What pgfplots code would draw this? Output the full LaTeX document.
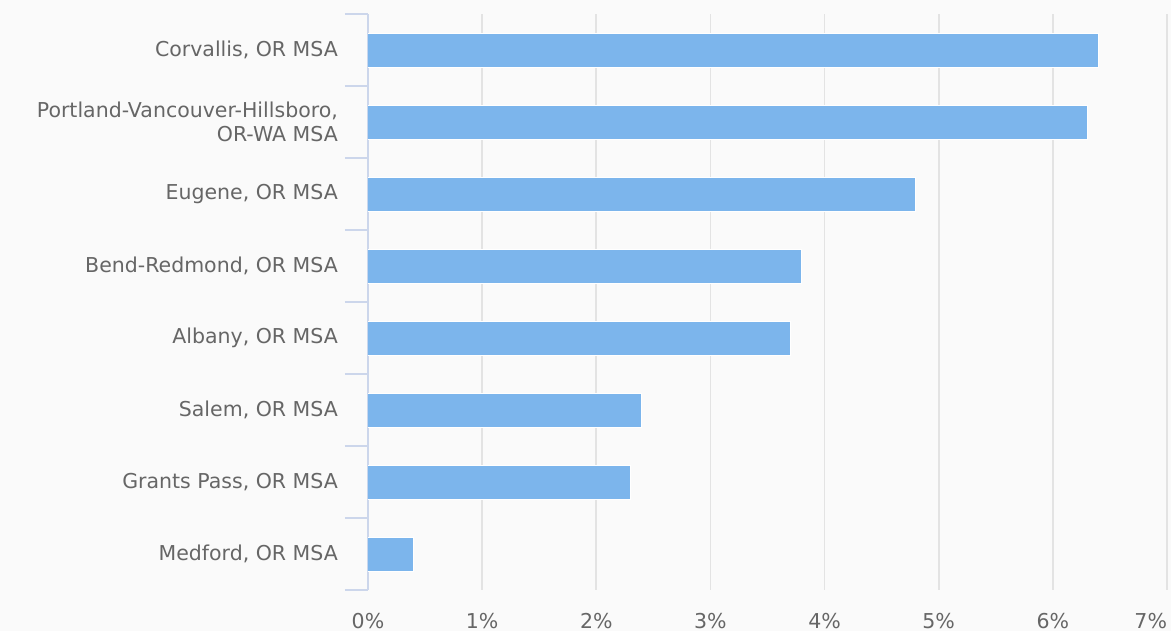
\documentclass[border=0pt]{standalone}
\usepackage{pgfplots}
\pgfplotsset{compat=1.18}
\usepackage{fontspec}
\setmainfont{DejaVu Sans}
\definecolor{bgc}{HTML}{FAFAFA}
\definecolor{barc}{HTML}{7CB5EC}
\definecolor{gridc}{HTML}{E3E3E3}
\definecolor{axc}{HTML}{CCD6EB}
\definecolor{txt}{HTML}{666666}
\begin{document}
\begin{tikzpicture}[x=1pt,y=1pt]
  \fill[bgc] (0,0) rectangle (1171,631);
  \begin{axis}[
    at={(368pt,41pt)}, anchor=south west,
    scale only axis, width=799pt, height=576pt,
    xbar, bar width=34pt,
    xmin=0, xmax=7, ymin=-0.5, ymax=7.5, y dir=reverse,
    axis y line*=left, axis x line*=bottom,
    x axis line style={draw=none},
    y axis line style={axc, line width=1.5pt, -},
    xtick={0,...,7},
    xticklabels={0\%,1\%,2\%,3\%,4\%,5\%,6\%,\makebox[0pt][r]{7\%}},
    ytick={0,...,7},
    yticklabels={{Corvallis, OR MSA},{Portland-Vancouver-Hillsboro,\\OR-WA MSA},{Eugene, OR MSA},{Bend-Redmond, OR MSA},{Albany, OR MSA},{Salem, OR MSA},{Grants Pass, OR MSA},{Medford, OR MSA}},
    minor ytick={-0.5,0.5,...,7.5},
    major tick length=0pt, minor tick length=23pt, tick align=outside,
    minor tick style={axc, line width=1.5pt},
    xmajorgrids, major grid style={gridc, line width=1.8pt},
    ticklabel style={font=\fontsize{20.5}{24}\selectfont, text=txt},
    xticklabel style={anchor=base, yshift=-38pt},
    yticklabel style={anchor=east, align=right, inner xsep=0pt, xshift=-30pt},
  ]
    \addplot[fill=barc, draw=white, line width=1pt] coordinates {
      (6.4,0) (6.3,1) (4.8,2) (3.8,3) (3.7,4) (2.4,5) (2.3,6) (0.4,7)
    };
  \end{axis}
  \pgfresetboundingbox
  \path (0,0) rectangle (1171,631);
\end{tikzpicture}
\end{document}
